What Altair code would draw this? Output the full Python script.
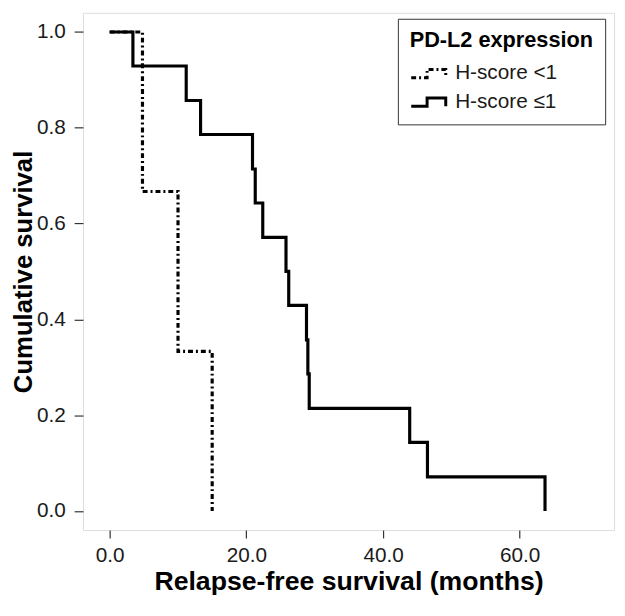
import altair as alt
import pandas as pd

# Kaplan-Meier step points (time in months, cumulative survival after the event)
low_label = "H-score <1"
low_time = [0.0, 4.8, 10.0, 15.0]
low_surv = [1.0, 0.667, 0.333, 0.0]

high_label = "H-score ≤1"
high_time = [0.0, 3.4, 11.2, 13.3, 20.9, 21.3, 22.4, 25.8, 26.2, 28.8, 29.0, 29.2, 43.9, 46.5, 63.7]
high_surv = [1.0, 0.929, 0.857, 0.786, 0.714, 0.643, 0.571, 0.5, 0.429, 0.357, 0.286, 0.214, 0.143, 0.071, 0.0]

x_ticks = [0, 20, 40, 60]
y_ticks = [0.0, 0.2, 0.4, 0.6, 0.8, 1.0]

rows = []
for t, s in zip(low_time, low_surv):
    rows.append({"group": low_label, "time": t, "surv": s})
for t, s in zip(high_time, high_surv):
    rows.append({"group": high_label, "time": t, "surv": s})
df = pd.DataFrame(rows)

step_symbol = "M-1,0.3L0.15,0.3L0.15,-0.3L1.5,-0.3L1.5,0.3"
font = "Liberation Sans"

chart = alt.Chart(df).mark_line(
    interpolate="step-after", strokeWidth=3.2, color="black", clip=True
).encode(
    x=alt.X("time:Q",
            scale=alt.Scale(domain=[-3.9, 73.8], nice=False, zero=False),
            axis=alt.Axis(values=x_ticks, format=".1f", grid=False, domain=False,
                          tickSize=8, tickColor="#333", tickWidth=1.2,
                          labelFontSize=21, labelFont=font, labelColor="#1a1a1a",
                          labelPadding=7,
                          title="Relapse-free survival (months)",
                          titleFont=font, titleFontSize=27, titleFontWeight="bold",
                          titleColor="black", titlePadding=3)),
    y=alt.Y("surv:Q",
            scale=alt.Scale(domain=[-0.04, 1.04], nice=False, zero=False),
            axis=alt.Axis(values=y_ticks, format=".1f", grid=False, domain=False,
                          tickSize=9, tickColor="#333", tickWidth=1.2,
                          labelFontSize=21, labelFont=font, labelColor="#1a1a1a",
                          labelPadding=9,
                          title="Cumulative survival",
                          titleFont=font, titleFontSize=26, titleFontWeight="bold",
                          titleColor="black", titlePadding=0)),
    strokeDash=alt.StrokeDash(
        "group:N",
        scale=alt.Scale(domain=[low_label, high_label], range=[[5, 3, 2, 3], [1, 0]]),
        legend=alt.Legend(
            title="PD-L2 expression", orient="none", legendX=319, legendY=6,
            titleFont=font, titleFontSize=22, titleFontWeight="bold", titleColor="black",
            titlePadding=6, titleAnchor="start", titleLimit=400, labelLimit=400,
            labelFont=font, labelFontSize=21, labelColor="#1a1a1a", labelOffset=15,
            symbolType=step_symbol, symbolSize=784, symbolStrokeWidth=3,
            symbolStrokeColor="black", symbolFillColor="transparent",
            rowPadding=3, padding=12, strokeColor="#333", fillColor="white",
            cornerRadius=0)),
    order="time:Q",
).properties(
    width=538, height=524,
    autosize=alt.AutoSizeParams(type="none"),
    padding={"left": 76, "top": 1, "right": 3, "bottom": 69},
).configure_view(
    stroke="#444", strokeWidth=1.3
).configure(background="white")

chart.save("out.html", embed_options={"renderer": "svg", "actions": False})
